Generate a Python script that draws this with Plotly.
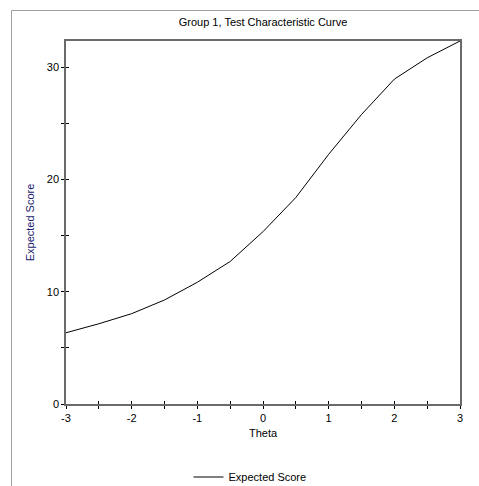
import plotly.graph_objects as go

theta = [-3, -2.5, -2, -1.5, -1, -0.5, 0, 0.5, 1, 1.5, 2, 2.5, 3]
expected_score = [6.35, 7.15, 8.05, 9.27, 10.85, 12.7, 15.36, 18.4, 22.25, 25.8, 28.95, 30.85, 32.35]
x_ticks = [-3, -2, -1, 0, 1, 2, 3]
x_tick_labels = ["-3", "-2", "-1", "0", "1", "2", "3"]
y_ticks = [0, 10, 20, 30]

FONT = "Liberation Sans, Arial, sans-serif"
AX = "#6a6a6a"

# the page body margin is removed in post_script, so figure px == window px
W, H = 479, 486
L, R, T = 66, 19, 41
PW, PH = W - L - R, 363
B = H - T - PH

def py(screen_y):
    return (T + PH - screen_y) / PH

def px(screen_x):
    return (screen_x - L) / PW

fig = go.Figure()
fig.add_trace(go.Scatter(x=theta, y=expected_score, mode="lines", name="Expected Score",
                         line=dict(color="#000000", width=1)))
# invisible trace to activate overlay axes (for crossing ticks)
fig.add_trace(go.Scatter(x=[theta[0]], y=[expected_score[0]], xaxis="x2", yaxis="y2",
                         mode="markers", marker=dict(opacity=0), showlegend=False, hoverinfo="skip"))

ymax = expected_score[-1]
fig.update_layout(
    width=W, height=H,
    margin=dict(l=L, r=R, t=T, b=B, autoexpand=False),
    paper_bgcolor="white", plot_bgcolor="white",
    font=dict(family=FONT, size=11, color="#000000"),
    title=dict(text="Group 1, Test Characteristic Curve", x=(L + PW / 2) / W, xanchor="center",
               y=1 - 22 / H, yanchor="middle", font=dict(size=11, family=FONT)),
    xaxis=dict(range=[-3, 3], tickvals=x_ticks, ticktext=x_tick_labels, ticks="outside", ticklen=3,
               tickcolor="#000000",
               showline=True, linecolor=AX, linewidth=1.5, mirror=True, showgrid=False, zeroline=False,
               minor=dict(dtick=0.5, tick0=-3, ticks="outside", ticklen=3, tickcolor="#000000"),
               title=dict(text="Theta", standoff=6, font=dict(size=11)), tickfont=dict(size=11)),
    yaxis=dict(range=[0, ymax], tickvals=y_ticks, ticks="outside", ticklen=3, tickcolor="#000000",
               showline=True, linecolor=AX, linewidth=1.5, mirror=True, showgrid=False, zeroline=False,
               minor=dict(dtick=5, tick0=0, ticks="outside", ticklen=3, tickcolor="#000000"),
               title=dict(text="Expected Score", standoff=10, font=dict(size=11, color="#1a1a70")),
               tickfont=dict(size=11)),
    xaxis2=dict(overlaying="x", matches="x", range=[-3, 3], tickvals=x_ticks, ticks="inside", ticklen=3,
                tickcolor="#000000", showticklabels=False, showgrid=False, zeroline=False, showline=False,
                minor=dict(dtick=0.5, tick0=-3, ticks="inside", ticklen=3, tickcolor="#000000")),
    yaxis2=dict(overlaying="y", matches="y", range=[0, ymax], tickvals=y_ticks, ticks="inside", ticklen=3,
                tickcolor="#000000", showticklabels=False, showgrid=False, zeroline=False, showline=False,
                minor=dict(dtick=5, tick0=0, ticks="inside", ticklen=3, tickcolor="#000000")),
    showlegend=True,
    legend=dict(orientation="h", x=px(250), xanchor="center", y=py(477),
                yanchor="middle", font=dict(size=11), bgcolor="rgba(0,0,0,0)"),
)

# outer panel frame: only the left and top edges are visible in the view
x_left, y_top = px(11.5), py(10.5)
x_right, y_bot = px(W), py(H)
fig.add_shape(type="path", xref="paper", yref="paper",
              path=f"M {x_left},{y_bot} L {x_left},{y_top} L {x_right},{y_top}",
              line=dict(color="#a0a0a0", width=1), layer="below")

fig.write_html(
    "out.html",
    config={"displayModeBar": False},
    post_script=("document.body.style.margin='0';"
                 "document.documentElement.style.overflow='hidden';"
                 "document.body.style.overflow='hidden';"),
)
